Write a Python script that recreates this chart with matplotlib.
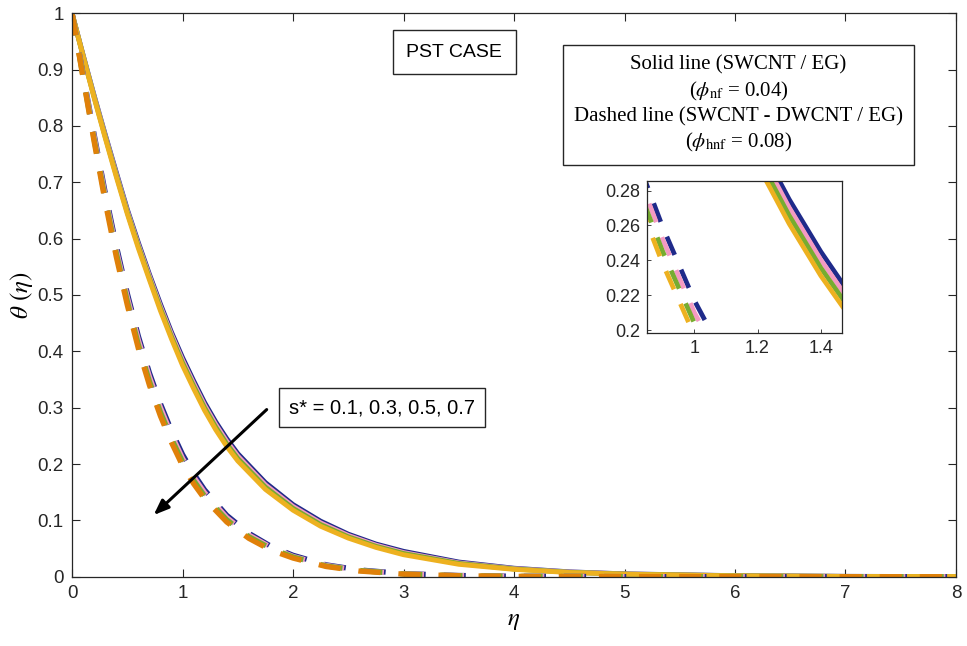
import numpy as np
import matplotlib
matplotlib.use('Agg')
import matplotlib.pyplot as plt

plt.rcParams['font.family'] = ['Liberation Sans', 'DejaVu Sans']
plt.rcParams['mathtext.fontset'] = 'stix'

# solid lines: SWCNT / EG, s* = 0.1, 0.3, 0.5, 0.7
eta_s = [0, 0.1, 0.2, 0.3, 0.4, 0.5, 0.6, 0.7, 0.8, 0.9, 1.0, 1.1, 1.2, 1.3,
         1.4, 1.5, 1.75, 2.0, 2.25, 2.5, 2.75, 3.0, 3.5, 4.0, 4.5, 5.0, 6.0,
         7.0, 8.0]
nf_01 = [1.0, 0.926, 0.854, 0.785, 0.718, 0.652, 0.593, 0.537, 0.484, 0.434,
         0.389, 0.348, 0.309, 0.275, 0.245, 0.2185, 0.167, 0.128, 0.0985,
         0.0755, 0.058, 0.045, 0.026, 0.015, 0.0086, 0.0050, 0.0018, 0.0006,
         0.0002]
nf_03 = [1.0, 0.9253, 0.8527, 0.783, 0.7152, 0.6493, 0.5895, 0.5337, 0.4798,
         0.430, 0.3842, 0.3432, 0.3043, 0.2703, 0.2403, 0.2142, 0.163, 0.1247,
         0.0955, 0.0732, 0.056, 0.0428, 0.0245, 0.0143, 0.0082, 0.0048, 0.0016,
         0.0005, 0.0002]
nf_05 = [1.0, 0.9247, 0.8513, 0.781, 0.7128, 0.6467, 0.5865, 0.5303, 0.4762,
         0.426, 0.3798, 0.3388, 0.2997, 0.2657, 0.2357, 0.2098, 0.159, 0.1213,
         0.0925, 0.0708, 0.054, 0.0412, 0.0235, 0.0137, 0.0078, 0.0046, 0.0016,
         0.0005, 0.0002]
nf_07 = [1.0, 0.924, 0.850, 0.779, 0.710, 0.644, 0.583, 0.527, 0.472, 0.422,
         0.375, 0.334, 0.295, 0.261, 0.2312, 0.2055, 0.155, 0.118, 0.0895,
         0.0685, 0.052, 0.039, 0.022, 0.013, 0.0074, 0.0044, 0.0014, 0.0004,
         0.0002]

# dashed lines: SWCNT - DWCNT / EG
eta_d = [0, 0.1, 0.2, 0.3, 0.4, 0.5, 0.6, 0.7, 0.8, 0.9, 1.0, 1.1, 1.2, 1.4,
         1.6, 1.8, 2.0, 2.3, 2.6, 3.0, 3.5, 4.0, 5.0, 6.0, 8.0]
hnf_01 = [1.0, 0.892, 0.785, 0.682, 0.588, 0.503, 0.427, 0.362, 0.307, 0.259,
          0.217, 0.183, 0.154, 0.109, 0.077, 0.054, 0.038, 0.021, 0.012, 0.0055,
          0.0021, 0.0008, 0.0001, 0, 0]
hnf_03 = [1.0, 0.890, 0.781, 0.676, 0.581, 0.496, 0.420, 0.355, 0.300, 0.252,
          0.210, 0.177, 0.149, 0.105, 0.074, 0.052, 0.036, 0.020, 0.011, 0.0052,
          0.0020, 0.0007, 0.0001, 0, 0]
hnf_05 = [1.0, 0.887, 0.776, 0.671, 0.575, 0.489, 0.412, 0.347, 0.292, 0.245,
          0.204, 0.171, 0.143, 0.101, 0.071, 0.050, 0.035, 0.019, 0.011, 0.0048,
          0.0018, 0.0007, 0.0001, 0, 0]
hnf_07 = [1.0, 0.885, 0.772, 0.665, 0.568, 0.482, 0.405, 0.340, 0.285, 0.238,
          0.197, 0.165, 0.138, 0.097, 0.068, 0.047, 0.033, 0.018, 0.010, 0.0045,
          0.0017, 0.0006, 0.0001, 0, 0]

solid = [nf_01, nf_03, nf_05, nf_07]
dashed = [hnf_01, hnf_03, hnf_05, hnf_07]
c_solid = ['#1f2a8a', '#f49ac2', '#77ac30', '#edb120']
c_dash_main = ['#1f2a8a', '#f49ac2', '#77ac30', '#e08009']
c_dash_inset = ['#1f2a8a', '#f49ac2', '#77ac30', '#edb120']

axis_col = '#262626'
dash = (0, (4.2, 3.4))

fig = plt.figure(figsize=(9.67, 6.46), dpi=100)
ax = fig.add_axes([0.0745, 0.1073, 0.9141, 0.8721])

for y, c in zip(solid, c_solid):
    ax.plot(eta_s, y, color=c, lw=3.5, solid_capstyle='butt', solid_joinstyle='round')
for y, c in zip(dashed, c_dash_main):
    ax.plot(eta_d, y, color=c, lw=3.8, linestyle=dash, dash_capstyle='butt')

ax.set_xlim(0, 8)
ax.set_ylim(0, 1)
ax.set_xticks(range(0, 9))
ax.set_yticks(np.arange(0, 1.01, 0.1))
ax.set_yticklabels(['0', '0.1', '0.2', '0.3', '0.4', '0.5', '0.6', '0.7', '0.8', '0.9', '1'])
ax.tick_params(direction='in', top=True, right=True, length=6, width=0.8,
               labelsize=13.5, colors=axis_col, pad=6)
for s in ax.spines.values():
    s.set_color(axis_col)
    s.set_linewidth(0.9)

ax.set_xlabel(r'$\eta$', fontsize=18, labelpad=4)
ax.set_ylabel(r'$\theta\ (\eta)$', fontsize=18, labelpad=2)

# text boxes
ax.text(3.46, 0.931, 'PST CASE', fontsize=14, ha='center', va='center',
        bbox=dict(boxstyle='square,pad=0.7', fc='white', ec=axis_col, lw=1))
ax.text(2.805, 0.30, 's* = 0.1, 0.3, 0.5, 0.7', fontsize=14.5, ha='center', va='center',
        bbox=dict(boxstyle='square,pad=0.5', fc='white', ec=axis_col, lw=1))
ax.annotate('', xy=(0.72, 0.106), xytext=(1.78, 0.30),
            arrowprops=dict(arrowstyle='-|>,head_length=0.9,head_width=0.35',
                            color='black', lw=2.2))

legend_txt = ('Solid line (SWCNT / EG)\n'
              r'($\phi_{\rm nf}$ = 0.04)' '\n'
              'Dashed line (SWCNT - DWCNT / EG)\n'
              r'($\phi_{\rm hnf}$ = 0.08)')
fig.text(0.7637, 0.838, legend_txt, fontsize=15, family='Liberation Serif',
         ha='center', va='center', linespacing=1.3,
         bbox=dict(boxstyle='square,pad=0.55', fc='white', ec=axis_col, lw=1))

# inset
ins = fig.add_axes([0.669, 0.484, 0.202, 0.2358])
for y, c in zip(solid, c_solid):
    ins.plot(eta_s, y, color=c, lw=3.4, solid_capstyle='butt')
for y, c in zip(dashed, c_dash_inset):
    ins.plot(eta_d, y, color=c, lw=3.4, linestyle=dash, dash_capstyle='butt')
ins.set_xlim(0.85, 1.468)
ins.set_ylim(0.1981, 0.2855)
ins.set_xticks([1, 1.2, 1.4])
ins.set_xticklabels(['1', '1.2', '1.4'])
ins.set_yticks([0.2, 0.22, 0.24, 0.26, 0.28])
ins.set_yticklabels(['0.2', '0.22', '0.24', '0.26', '0.28'])
ins.tick_params(direction='in', length=3, width=0.6, labelsize=13,
                colors=axis_col, pad=5)
for s in ins.spines.values():
    s.set_color(axis_col)
    s.set_linewidth(0.9)

fig.savefig('out.png', dpi=100)
